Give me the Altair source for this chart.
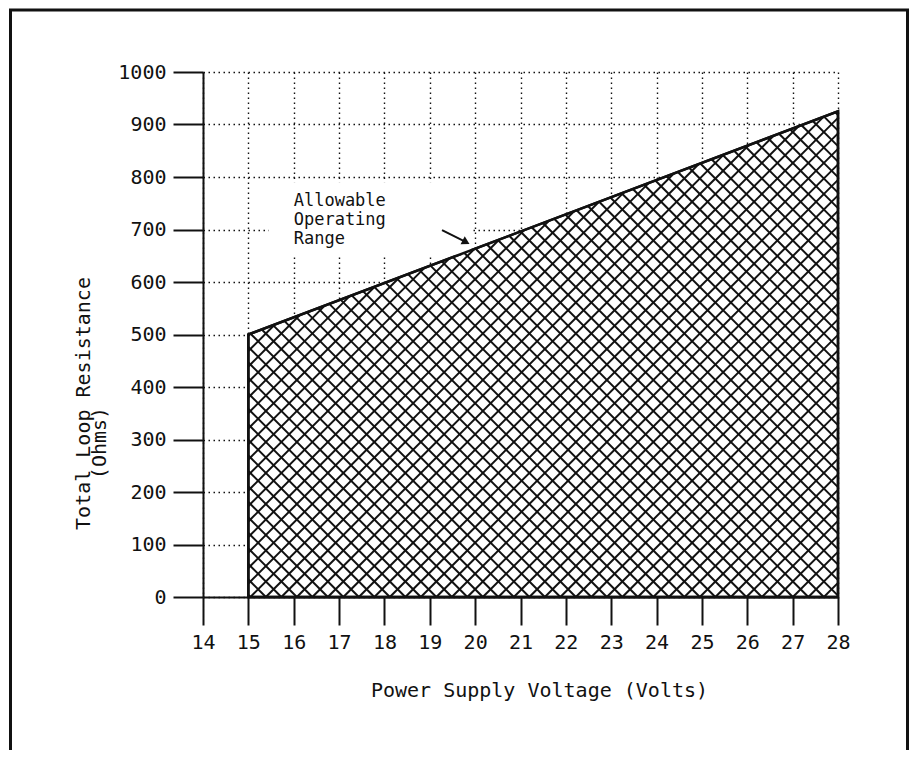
import altair as alt
import numpy as np
import pandas as pd

# ---------------- data ----------------
voltage = [15, 28]                 # V, edges of the allowable region
max_resistance = [500, 925]        # Ohms, top edge of the region at those voltages
x_ticks = list(range(14, 29))
y_ticks = list(range(0, 1001, 100))
x_domain = [14, 28]
y_domain = [0, 1000]
annotation_lines = ["Allowable", "Operating", "Range"]
x_title = "Power Supply Voltage (Volts)"
y_title = "Total Loop Resistance"
y_unit = "(Ohms)"

# ---------------- style / layout ----------------
W, H = 635, 525
FONT = "DejaVu Sans Mono"
INK = "#111111"
FS = 20

# cross-hatch pattern: lines at +/-45 degrees on screen, ~15 px apart
px_per_v = W / (x_domain[1] - x_domain[0])
px_per_ohm = H / (y_domain[1] - y_domain[0])
k = px_per_v / px_per_ohm
step = 15.5 / px_per_v

x0, x1 = voltage
t0, t1 = max_resistance
m = (t1 - t0) / (x1 - x0)

segs = []


def clip(a, b):
    lo, hi = x0, x1
    r = -a / b
    if b > 0:
        lo = max(lo, r)
    else:
        hi = min(hi, r)
    d = b - m
    r = (t0 - m * x0 - a) / d
    if d > 0:
        hi = min(hi, r)
    else:
        lo = max(lo, r)
    if hi - lo > 1e-6:
        segs.append({"voltage": lo, "v2": hi, "resistance": a + b * lo, "r2": a + b * hi})


span = y_domain[1] / k
for c in np.arange(x0 - span - step, x1 + span + step, step):
    clip(-k * c, k)
    clip(k * c, -k)

hatch_df = pd.DataFrame(segs)
area_df = pd.DataFrame({"voltage": voltage, "resistance": max_resistance})

x_axis = alt.Axis(
    values=x_ticks, format="d", labelFlush=False, labelOverlap=False,
    tickSize=28, tickWidth=2, tickColor=INK, domainColor=INK, domainWidth=2,
    grid=True, gridColor=INK, gridWidth=1.4, gridDash=[1.5, 3.5],
    labelFont=FONT, labelFontSize=FS, labelColor=INK, labelPadding=7,
    title=x_title, titleFont=FONT, titleFontSize=FS, titleFontWeight="normal",
    titleColor=INK, titleX=336, titleY=93, titleAlign="center", titleBaseline="middle",
)
y_axis = alt.Axis(
    values=y_ticks, format="d", labelFlush=False, labelOverlap=False,
    tickSize=30, tickWidth=2, tickColor=INK, domainColor=INK, domainWidth=2,
    grid=True, gridColor=INK, gridWidth=1.4, gridDash=[1.5, 3.5],
    labelFont=FONT, labelFontSize=FS, labelColor=INK, labelPadding=7,
    title=y_title, titleFont=FONT, titleFontSize=FS, titleFontWeight="normal",
    titleColor=INK, titleX=-120, titleY=331, titleAngle=270,
    titleAlign="center", titleBaseline="middle",
)

xs = alt.Scale(domain=x_domain, nice=False, zero=False)
ys = alt.Scale(domain=y_domain, nice=False)
X = alt.X("voltage:Q", scale=xs, axis=x_axis)
Y = alt.Y("resistance:Q", scale=ys, axis=y_axis)

area = alt.Chart(area_df).mark_area(fill="white", stroke=INK, strokeWidth=2.5).encode(x=X, y=Y)

# white patch behind the annotation text (interrupts the grid, as in the original)
bg_df = pd.DataFrame({"voltage": [15.45], "v2": [19.9], "resistance": [652], "r2": [790]})
bg = alt.Chart(bg_df).mark_rect(fill="white").encode(x=X, x2="v2:Q", y=Y, y2="r2:Q")

hatch = alt.Chart(hatch_df).mark_rule(color=INK, strokeWidth=2).encode(
    x=X, x2="v2:Q", y=Y, y2="r2:Q"
)

outline = alt.Chart(area_df).mark_area(fill=None, stroke=INK, strokeWidth=2.5, filled=False).encode(
    x=X, y=Y
)

txt_df = pd.DataFrame({"voltage": [16.0], "resistance": [745.0]})
label = alt.Chart(txt_df).mark_text(
    align="left", baseline="alphabetic", font=FONT, fontSize=17, color=INK, lineHeight=19,
).encode(x=X, y=Y, text=alt.value(annotation_lines))

arrow_df = pd.DataFrame({"voltage": [19.27], "resistance": [699.0], "v2": [19.80], "r2": [676.0]})
shaft = alt.Chart(arrow_df).mark_rule(color=INK, strokeWidth=2).encode(
    x=X, x2="v2:Q", y=Y, y2="r2:Q"
)
head_df = pd.DataFrame({"voltage": [19.80], "resistance": [676.0]})
head = alt.Chart(head_df).mark_point(
    shape="triangle-right", filled=True, color=INK, size=80, angle=28, opacity=1,
).encode(x=X, y=Y)

unit = alt.Chart(pd.DataFrame({"u": [y_unit]})).mark_text(
    angle=270, align="center", baseline="middle", font=FONT, fontSize=FS, color=INK,
).encode(text="u:N", x=alt.value(-103), y=alt.value(371))

frame = alt.Chart(pd.DataFrame({"f": [0]})).mark_rect(
    filled=False, fill=None, stroke=INK, strokeWidth=3, clip=False,
).encode(
    x=alt.value(-192.5), x2=alt.value(704.5), y=alt.value(-62), y2=alt.value(720),
)

chart = alt.layer(area, bg, hatch, outline, label, shaft, head, unit, frame).properties(
    width=W, height=H,
    autosize=alt.AutoSizeParams(type="none"),
    padding={"left": 195, "top": 64, "right": 71, "bottom": 153},
    background="white",
).configure_view(stroke=None)

chart.save("out.html", embed_options={"renderer": "svg", "actions": False})
